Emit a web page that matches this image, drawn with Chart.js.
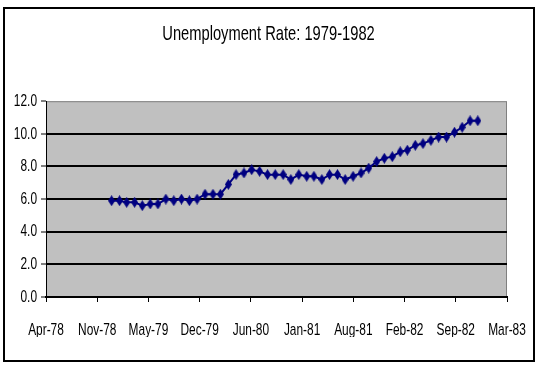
<!DOCTYPE html>
<html lang="en">
<head>
  <meta charset="UTF-8">
  <title>Unemployment Rate: 1979-1982</title>
  <script src="https://cdn.jsdelivr.net/npm/chart.js"></script>
  <style>
    html, body { margin: 0; padding: 0; background: #fff; }
    canvas { display: block; }
  </style>
</head>
<body>
  <canvas id="rateChart" width="541" height="384"></canvas>

  <script>
    // Monthly unemployment rate (%), one array per year
    const rate1979 = [5.9, 5.9, 5.8, 5.8, 5.6, 5.7, 5.7, 6.0, 5.9, 6.0, 5.9, 6.0];
    const rate1980 = [6.3, 6.3, 6.3, 6.9, 7.5, 7.6, 7.8, 7.7, 7.5, 7.5, 7.5, 7.2];
    const rate1981 = [7.5, 7.4, 7.4, 7.2, 7.5, 7.5, 7.2, 7.4, 7.6, 7.9, 8.3, 8.5];
    const rate1982 = [8.6, 8.9, 9.0, 9.3, 9.4, 9.6, 9.8, 9.8, 10.1, 10.4, 10.8, 10.8];
    const years = [1979, 1980, 1981, 1982];

    // Date axis labels (one every 200 days, starting 20 Apr 1978)
    const tickLabels = ['Apr-78', 'Nov-78', 'May-79', 'Dec-79', 'Jun-80',
                        'Jan-81', 'Aug-81', 'Feb-82', 'Sep-82', 'Mar-83'];
    const yTicks = [0, 2, 4, 6, 8, 10, 12];

    const DAY = 86400000;
    const xStart = Date.UTC(1978, 3, 20) / DAY;
    const xStep = 200;

    // build {x: day, y: rate} points from the yearly arrays
    const points = [];
    [rate1979, rate1980, rate1981, rate1982].forEach((arr, yi) => {
      arr.forEach((v, m) => {
        points.push({ x: Date.UTC(years[yi], m, 1) / DAY, y: v });
      });
    });

    // tall diamond marker like the Excel one
    const marker = document.createElement('canvas');
    marker.width = 7;
    marker.height = 11;
    const mctx = marker.getContext('2d');
    mctx.fillStyle = '#000080';
    mctx.beginPath();
    mctx.moveTo(3.5, 0);
    mctx.lineTo(7, 5.5);
    mctx.lineTo(3.5, 11);
    mctx.lineTo(0, 5.5);
    mctx.closePath();
    mctx.fill();

    const FONT = "'Liberation Sans', Arial, sans-serif";

    const ctx = document.getElementById('rateChart').getContext('2d');

    // the original uses a squeezed Arial; squeeze all text horizontally around its anchor
    const SQUEEZE = 0.7;
    const rawFillText = ctx.fillText;
    ctx.fillText = function (text, x, y, maxWidth) {
      this.save();
      this.translate(x, y);
      this.scale(SQUEEZE, 1);
      rawFillText.call(this, text, 0, 0);
      this.restore();
    };

    const frame = {
      id: 'frame',
      afterLayout(chart) {
        // centre the title on the whole frame, not on the plot
        if (chart.titleBlock) {
          chart.titleBlock.left = 0;
          chart.titleBlock.right = 537;
        }
      },
      beforeDraw(chart) {
        const { ctx, chartArea: a } = chart;
        ctx.save();
        ctx.fillStyle = '#fff';
        ctx.fillRect(0, 0, chart.width, chart.height);
        ctx.strokeStyle = '#000';
        ctx.lineWidth = 2;
        ctx.strokeRect(4, 8, 530, 353);
        ctx.fillStyle = '#c0c0c0';
        ctx.fillRect(a.left, a.top, a.right - a.left, a.bottom - a.top);
        ctx.strokeStyle = '#808080';
        ctx.lineWidth = 1;
        ctx.strokeRect(a.left + 0.5, a.top + 0.5, a.right - a.left - 1, a.bottom - a.top);
        ctx.restore();
      }
    };

    new Chart(ctx, {
      type: 'line',
      data: {
        datasets: [{
          label: 'Unemployment Rate',
          data: points,
          borderColor: '#000080',
          borderWidth: 2,
          pointStyle: marker,
          pointRadius: 4,
          tension: 0
        }]
      },
      options: {
        responsive: false,
        animation: false,
        layout: { padding: { left: 0, right: 34, top: 0, bottom: 47 } },
        plugins: {
          legend: { display: false },
          tooltip: { enabled: false },
          title: {
            display: true,
            text: 'Unemployment Rate: 1979-1982',
            color: '#000',
            font: { family: FONT, size: 21, weight: 'normal' },
            padding: { top: 22, bottom: 54 }
          }
        },
        scales: {
          x: {
            type: 'linear',
            min: xStart,
            max: xStart + xStep * (tickLabels.length - 1),
            afterBuildTicks: (scale) => {
              scale.ticks = tickLabels.map((_, i) => ({ value: xStart + i * xStep }));
            },
            afterFit: (scale) => {
              scale.height = 40;
              scale.paddingLeft = 0;
              scale.paddingRight = 0;
            },
            ticks: {
              autoSkip: false,
              maxRotation: 0,
              padding: 18,
              color: '#000',
              font: { family: FONT, size: 17 },
              callback: (v, i) => tickLabels[i]
            },
            grid: {
              drawOnChartArea: false,
              tickLength: 5,
              tickColor: '#000',
              tickWidth: 1
            },
            border: { color: '#000', width: 2 }
          },
          y: {
            min: 0,
            max: 12,
            afterBuildTicks: (scale) => {
              scale.ticks = yTicks.map(v => ({ value: v }));
            },
            afterFit: (scale) => { scale.width = 46; },
            ticks: {
              padding: 4,
              color: '#000',
              font: { family: FONT, size: 17 },
              callback: (v) => v.toFixed(1)
            },
            grid: {
              color: (c) => (c.tick && (c.tick.value === 12 || c.tick.value === 0)) ? 'rgba(0,0,0,0)' : '#000',
              lineWidth: 2,
              tickLength: 5,
              tickColor: '#000',
              tickWidth: 1
            },
            border: { color: '#000', width: 1 }
          }
        }
      },
      plugins: [frame]
    });
  </script>
</body>
</html>
